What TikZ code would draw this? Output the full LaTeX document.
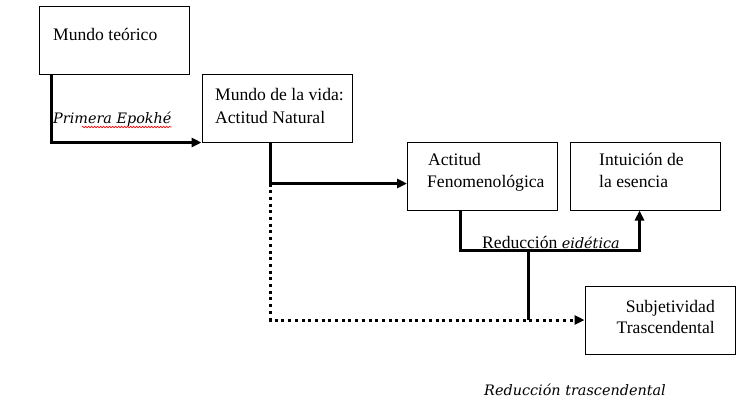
\documentclass[tikz,border=0pt]{standalone}
\usepackage{fontspec}
\setmainfont{Liberation Serif}
\newfontfamily\labelfont{DejaVu Serif}
\usetikzlibrary{arrows.meta,calc,decorations.pathmorphing}
\begin{document}
\begin{tikzpicture}[x=1pt,y=-1pt,
 box/.style={draw,line width=1pt,minimum width=150pt,minimum height=68pt,inner sep=0pt},
 txt/.style={anchor=base west,inner sep=0pt,font=\fontsize{17.6}{22}\selectfont},
 lab/.style={anchor=base west,inner sep=0pt,font=\labelfont\itshape\fontsize{14.4}{17}\selectfont},
 conn/.style={line width=3pt},
 tip/.style={-{Triangle[length=10pt,width=9pt]}},
 dots/.style={line width=3pt,dash pattern=on 3pt off 3.7pt}]
\useasboundingbox (0,0) rectangle (747,407);
\node[box] (b1) at (114,40) {};
\node[box] (b2) at (277,108) {};
\node[box] (b3) at (482.5,176) {};
\node[box] (b4) at (645,176) {};
\node[box] (b5) at (660,320) {};
\node[txt] (t1) at (53,40) {Mundo teórico};
\node[txt] (t2a) at (215,100) {Mundo de la vida:};
\node[txt] (t2b) at (215,123) {Actitud Natural};
\node[txt] (t3a) at (428,165) {Actitud};
\node[txt] (t3b) at (427,187) {Fenomenológica};
\node[txt] (t4a) at (599,165) {Intuición de};
\node[txt] (t4b) at (599,187) {la esencia};
\node[txt,anchor=base east] (t5a) at (715,312) {Subjetividad};
\node[txt,anchor=base east] (t5b) at (715,333) {Trascendental};
\node[lab] (l1) at (53,123) {Primera Epokhé};
\node[txt] (l2) at (482,248) {Reducción {\labelfont\itshape\fontsize{14.4}{17}\selectfont eidética}};
\node[lab] (l3) at (484,395) {Reducción trascendental};
\draw[red,line width=0.6pt,decorate,decoration={snake,amplitude=0.8pt,segment length=3pt}]
  ($(l1.base east)+(-90,4)$) -- ($(l1.base east)+(0,4)$);
\coordinate (c1) at ($(b1.south west)+(13,0)$);
\draw[conn,tip] (c1) |- (b2.south west);
\coordinate (c2) at ($(b2.south west)+(69,0)$);
\coordinate (c3) at ($(c2)+(0,41)$);
\draw[conn] (c2) -- (c3);
\draw[conn,tip] (c3) -- (c3 -| b3.west);
\draw[dots,tip] (c3) |- (b5.west);
\coordinate (c4) at ($(b3.south west)+(53,0)$);
\coordinate (c5) at ($(b4.south west)+(70,0)$);
\draw[conn,tip] (c4) -- ++(0,40) -| (c5);
\coordinate (c6) at (528,250);
\draw[conn] (c6) -- (c6 |- b5.west);
\end{tikzpicture}
\end{document}
